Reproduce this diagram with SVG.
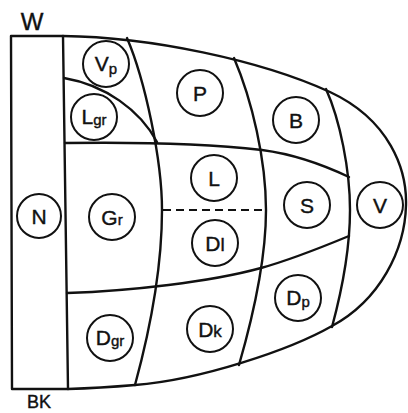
<svg xmlns="http://www.w3.org/2000/svg" width="408" height="413" viewBox="0 0 408 413">
<style>
.ln{fill:none;stroke:#111;stroke-width:2.4;stroke-linecap:round;stroke-linejoin:round}
.dash{fill:none;stroke:#111;stroke-width:2.2;stroke-dasharray:8,5}
.c{fill:#fff;stroke:#111;stroke-width:2}
.t{font-family:"Liberation Sans",Arial,sans-serif;font-size:21px;fill:#111;text-anchor:middle;stroke:#111;stroke-width:0.4}
.s{font-size:15px}
.lab{font-family:"Liberation Sans",Arial,sans-serif;fill:#111;stroke:#111;stroke-width:0.4}
</style>
<rect width="408" height="413" fill="#fff"/>
<g id="connectors">
<path class="ln" d="M11,36 L63,36 C150,37 260,60 330,92 C390,120 407,170 406,205 C405,250 380,300 332,326 C290,350 200,380 135,385 Q100,388 68,389 L12,389 Z"/>
<path class="ln" d="M63,36 Q65,200 68,389"/>
<path class="ln" d="M127,38 C145,80 162,160 162,210 C162,270 150,330 135,385"/>
<path class="ln" d="M234,58 C252,100 266,160 266,210 C266,260 252,320 239,365"/>
<path class="ln" d="M326,89 C340,120 350,170 350,210 C350,250 342,290 332,327"/>
<path class="ln" d="M65,143 C130,142 200,143 262,150 C300,155 330,168 349,177"/>
<path class="ln" d="M67,293 C130,291 210,282 261,268 C290,260 320,248 349,236"/>
<path class="ln" d="M64,78 C105,85 140,110 157,142"/>
<path class="dash" d="M163,210 L265,210"/>
</g>
<g id="W"><text class="lab" x="32" y="30" font-size="24" text-anchor="middle">W</text></g>
<g id="BK"><text class="lab" x="27" y="408" font-size="18">BK</text></g>
<g id="N"><circle class="c" cx="39" cy="216" r="22"/><text class="t" x="39" y="224">N</text></g>
<g id="Vp"><circle class="c" cx="106" cy="64" r="23"/><text class="t" x="106" y="71">V<tspan class="s" dy="3">p</tspan></text></g>
<g id="Lgr"><circle class="c" cx="94" cy="117" r="23"/><text class="t" x="94" y="124">L<tspan class="s" dy="1">gr</tspan></text></g>
<g id="P"><circle class="c" cx="200" cy="93" r="23"/><text class="t" x="200" y="101">P</text></g>
<g id="B"><circle class="c" cx="296" cy="120" r="23"/><text class="t" x="296" y="128">B</text></g>
<g id="Gr"><circle class="c" cx="112" cy="217" r="23"/><text class="t" x="112" y="225">G<tspan class="s">r</tspan></text></g>
<g id="L"><circle class="c" cx="214" cy="178" r="23"/><text class="t" x="214" y="186">L</text></g>
<g id="Dl"><circle class="c" cx="215" cy="243" r="23"/><text class="t" x="215" y="251">D<tspan style="font-size:19px">l</tspan></text></g>
<g id="S"><circle class="c" cx="307" cy="205" r="23"/><text class="t" x="307" y="213">S</text></g>
<g id="V"><circle class="c" cx="380" cy="205" r="23"/><text class="t" x="380" y="213">V</text></g>
<g id="Dgr"><circle class="c" cx="110" cy="338" r="23"/><text class="t" x="110" y="345">D<tspan class="s" dy="1">gr</tspan></text></g>
<g id="Dk"><circle class="c" cx="210" cy="329" r="23"/><text class="t" x="210" y="337">D<tspan style="font-size:17px">k</tspan></text></g>
<g id="Dp"><circle class="c" cx="298" cy="298" r="23"/><text class="t" x="298" y="305">D<tspan class="s" dy="2">p</tspan></text></g>
</svg>
